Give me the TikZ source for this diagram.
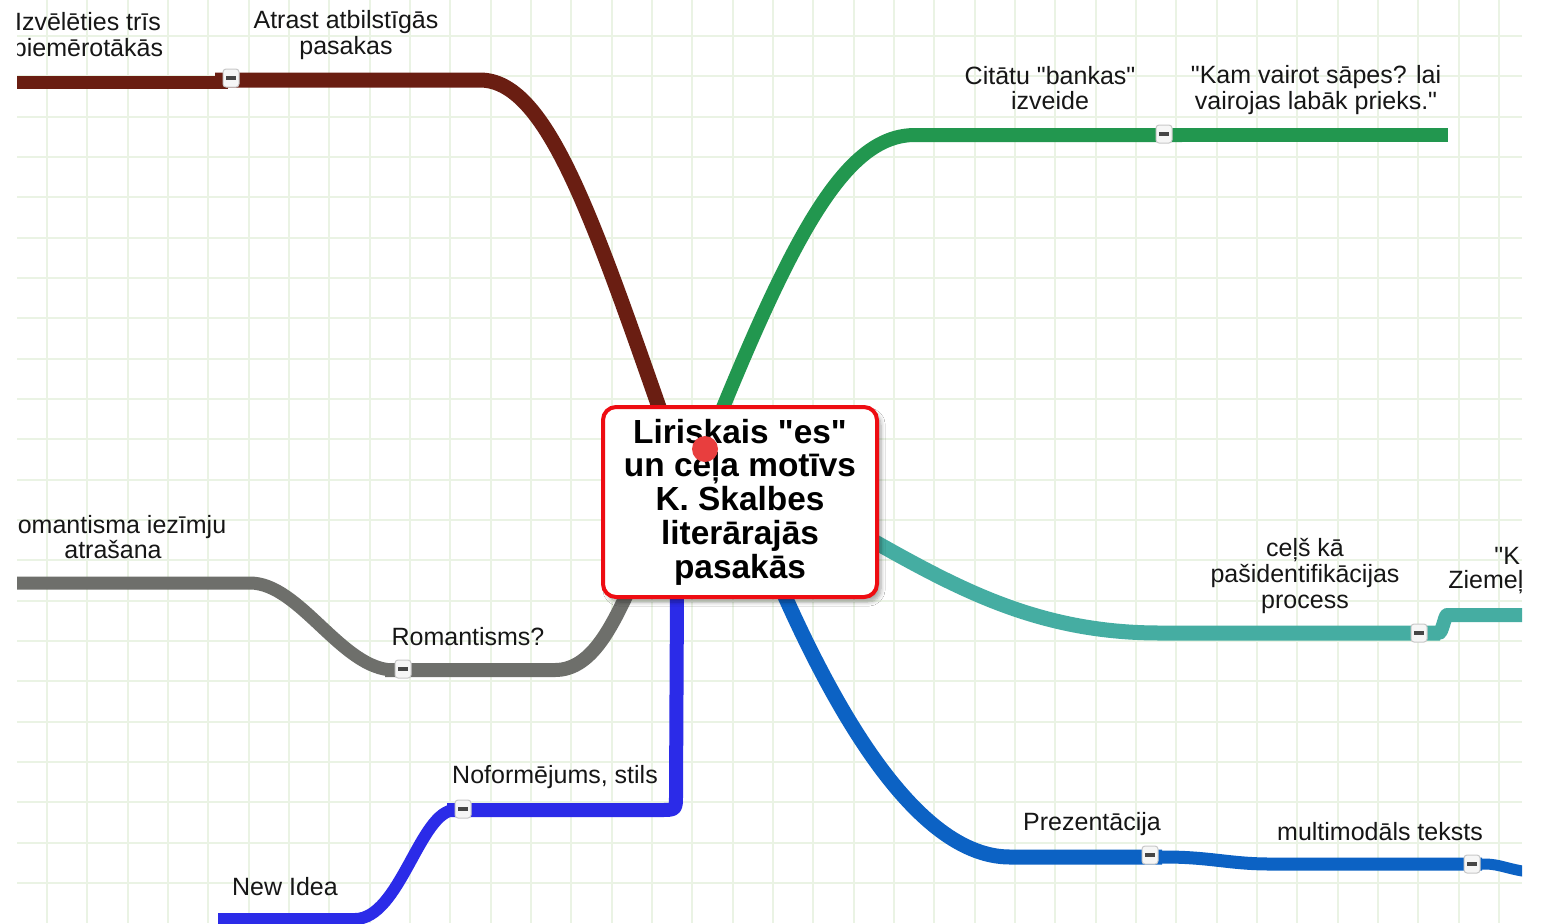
\documentclass[tikz,border=0pt]{standalone}
\usepackage{fontspec}
\setmainfont{Liberation Sans}[Ligatures=TeXOff]
\usetikzlibrary{shadows.blur}
\definecolor{gridc}{RGB}{234,243,228}
\definecolor{brownc}{RGB}{106,30,18}
\definecolor{greenc}{RGB}{34,151,79}
\definecolor{grayc}{RGB}{110,111,107}
\definecolor{tealc}{RGB}{69,173,162}
\definecolor{bluec}{RGB}{43,43,232}
\definecolor{dbluec}{RGB}{12,98,196}
\definecolor{rootred}{RGB}{238,12,18}
\definecolor{dotred}{RGB}{232,62,62}
\definecolor{minusf}{RGB}{246,246,246}
\definecolor{minusb}{RGB}{200,200,200}
\definecolor{minusc}{RGB}{70,70,70}
\definecolor{txtc}{RGB}{22,22,22}
\begin{document}
\begin{tikzpicture}[x=0.5pt,y=-0.5pt,
  br/.style={line cap=butt,line join=round},
  lbl/.style={inner sep=0pt,align=center,text=txtc,font=\fontsize{12.5pt}{12.8pt}\selectfont},
  mbox/.style={draw=minusb,fill=minusf,rounded corners=1.5pt,minimum width=8pt,minimum height=9pt,inner sep=0pt,line width=0.5pt,
    path picture={\fill[minusc,sharp corners] ([xshift=-2.6pt,yshift=-0.8pt]path picture bounding box.center) rectangle ([xshift=2.6pt,yshift=0.8pt]path picture bounding box.center);}},
  rootbox/.style={draw=rootred,line width=2pt,fill=white,rounded corners=6.5pt,minimum width=137pt,minimum height=95pt,inner sep=0pt,
    align=center,font=\bfseries\fontsize{16.7pt}{16.9pt}\selectfont,
    blur shadow={shadow xshift=2pt,shadow yshift=-2.5pt,shadow blur steps=6,shadow opacity=35}}
]
\useasboundingbox (0,0) rectangle (1543,923);
\fill[white] (0,0) rectangle (1543,923);
% grid
\foreach \k in {0,...,36} \draw[gridc,line width=1pt] ({47+40.33*\k},0) -- ({47+40.33*\k},923);
\foreach \k in {0,...,21} \draw[gridc,line width=1pt] (17,{36+40.33*\k}) -- (1522,{36+40.33*\k});

\begin{scope}
\clip (17,0) rectangle (1522,923);
% coordinates
\coordinate (bA) at (660,410); \coordinate (bB) at (480,80); \coordinate (bC) at (215,80);
\coordinate (bD) at (228,82.5); \coordinate (bE) at (0,82.5);
\coordinate (gA) at (722,410); \coordinate (gB) at (915,135); \coordinate (gC) at (1182,135);
\coordinate (gD) at (1160,135); \coordinate (gE) at (1448,135);
\coordinate (yA) at (628,592); \coordinate (yB) at (555,670); \coordinate (yC) at (385,670);
\coordinate (yD) at (394,670); \coordinate (yE) at (250,583); \coordinate (yF) at (0,583);
\coordinate (tA) at (868,538); \coordinate (tB) at (1160,633); \coordinate (tC) at (1440,633);
\coordinate (tD) at (1430,633); \coordinate (tE) at (1447,615); \coordinate (tF) at (1530,615);
\coordinate (uA) at (677,592); \coordinate (uB) at (676,795); \coordinate (uC) at (660,810); \coordinate (uD) at (447,810);
\coordinate (uE) at (455,810); \coordinate (uF) at (355,919); \coordinate (uG) at (218,919);
\coordinate (dA) at (783,592); \coordinate (dB) at (1010,857); \coordinate (dC) at (1162,857);
\coordinate (dD) at (1140,857); \coordinate (dE) at (1270,864); \coordinate (dF) at (1482,864);
\coordinate (dG) at (1470,864); \coordinate (dH) at (1530,872);

% brown
\draw[br,brownc,line width=6.5pt] (bD) -- (bE);
\draw[br,brownc,line width=7.5pt] (bA) .. controls +(-70,-200) and +(65,0) .. (bB) -- (bC);
% green
\draw[br,greenc,line width=7pt] (gD) -- (gE);
\draw[br,greenc,line width=7pt] (gA) .. controls +(78,-190) and +(-65,0) .. (gB) -- (gC);
% gray
\draw[br,grayc,line width=6.5pt] (yD) .. controls +(-52,0) and +(50,0) .. (yE) -- (yF);
\draw[br,grayc,line width=7pt] (yA) .. controls +(-18,38) and +(35,0) .. (yB) -- (yC);
% teal
\draw[br,tealc,line width=7pt] (tD) -- ++(9,0) .. controls +(3,0) and +(-2,0) .. (tE) -- (tF);
\draw[br,tealc,line width=7.5pt] (tA) .. controls +(92,52) and +(-120,0) .. (tB) -- (tC);
% bright blue
\draw[br,bluec,line width=6pt] (uE) .. controls +(-35,0) and +(45,0) .. (uF) -- (uG);
\draw[br,bluec,line width=7pt] (uA) -- (uB) .. controls +(0,15) .. (uC) -- (uD);
% dark blue
\draw[br,dbluec,line width=5.5pt] (dG) -- ++(15,0) .. controls +(15,0) and +(-20,-2) .. (dH);
\draw[br,dbluec,line width=6.5pt] (dD) -- ++(25,0) .. controls +(45,0) and +(-40,0) .. (dE) -- (dF);
\draw[br,dbluec,line width=7.5pt] (dA) .. controls +(57,128) and +(-90,0) .. (dB) -- (dC);

% minus boxes
\node[mbox] (m-brown) at (231,78) {};
\node[mbox] (m-green) at (1164,134) {};
\node[mbox] (m-gray) at (403,669) {};
\node[mbox] (m-teal) at (1419,633) {};
\node[mbox] (m-blue) at (463,809) {};
\node[mbox] (m-dblue1) at (1150,855) {};
\node[mbox] (m-dblue2) at (1472,864) {};

% labels
\node[lbl] (t-izv) at (88,37) {Izvēlēties trīs\\piemērotākās};
\node[lbl] (t-atr) at (346,35) {Atrast atbilstīgās\\pasakas};
\node[lbl] (t-cit) at (1050,88) {Citātu "bankas"\\izveide};
\node[lbl] (t-kam) at (1316,90) {"Kam vairot sāpes? lai\\vairojas labāk prieks."};
\node[lbl] (t-rom) at (113,537) {Romantisma iezīmju\\atrašana};
\node[lbl] (t-romq) at (468,637) {Romantisms?};
\node[lbl] (t-cel) at (1305,576) {ceļš kā\\pašidentifikācijas\\process};
\node[lbl,anchor=west] (t-k) at (1494,556) {"K};
\node[lbl,anchor=west] (t-zie) at (1448,582) {Ziemeļ};
\node[lbl] (t-nof) at (555,777) {Noformējums, stils};
\node[lbl] (t-new) at (285,887) {New Idea};
\node[lbl] (t-pre) at (1092,824) {Prezentācija};
\node[lbl] (t-mul) at (1380,832) {multimodāls teksts};
\end{scope}

% central topic
\node[rootbox] (root) at (740,502) {Liriskais "es"\\un ceļa motīvs\\K. Skalbes\\literārajās\\pasakās};
\fill[dotred] (705,449) circle (6.5pt);
\end{tikzpicture}
\end{document}
